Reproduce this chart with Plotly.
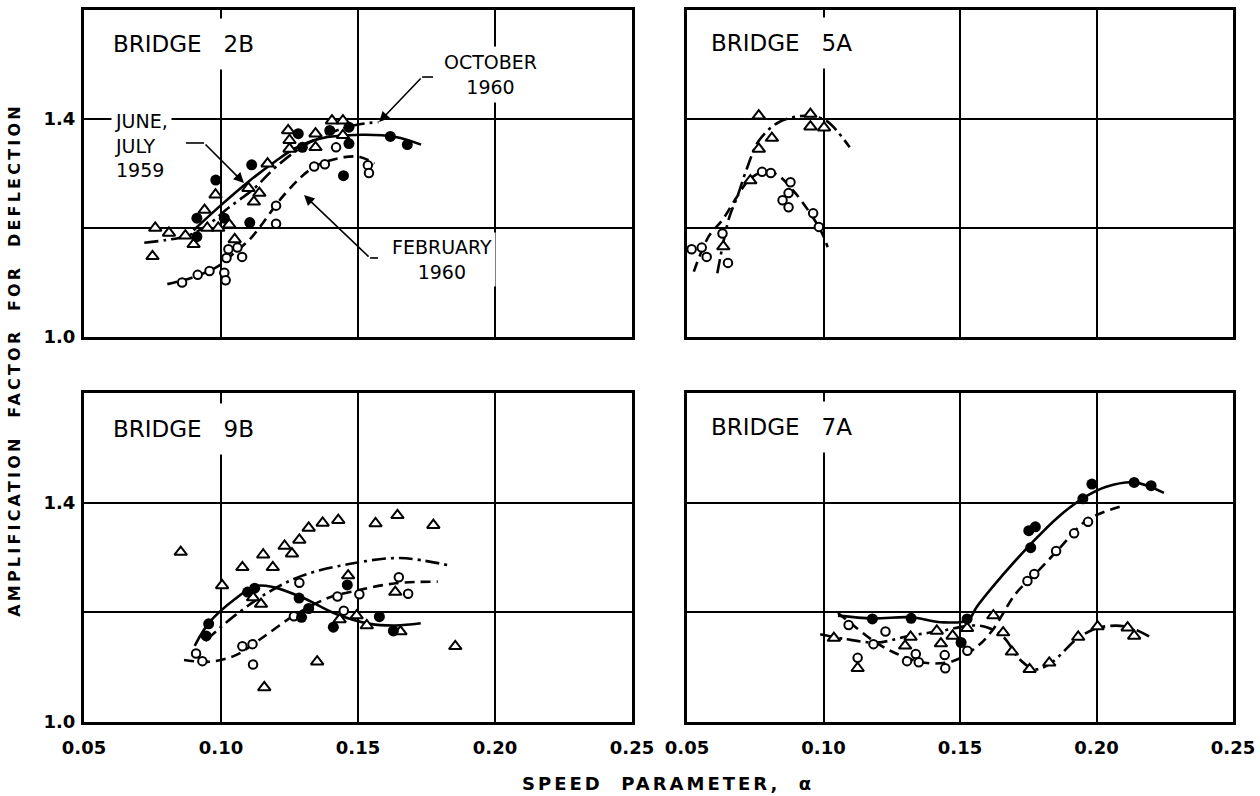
import plotly.graph_objects as go

FONT = "DejaVu Sans"

# Axis ticks shared by all four panels
X_TICKS = [0.05, 0.10, 0.15, 0.20, 0.25]
X_TICK_TEXT = ["0.05", "0.10", "0.15", "0.20", "0.25"]
Y_TICKS = [1.0, 1.2, 1.4]
Y_TICK_TEXT = ["1.0", "", "1.4"]

# ---- Bridge 2B ----
b2b_fill_x = [0.0912, 0.0912, 0.0981, 0.1012, 0.1112, 0.1105, 0.1282, 0.1297, 0.1397, 0.1467, 0.1467, 0.1447, 0.1618, 0.1680]
b2b_fill_y = [1.218, 1.184, 1.288, 1.218, 1.316, 1.210, 1.373, 1.348, 1.379, 1.385, 1.355, 1.296, 1.368, 1.353]
b2b_open_x = [0.0858, 0.0915, 0.0958, 0.1012, 0.1017, 0.1020, 0.1027, 0.1060, 0.1077, 0.1201, 0.1201, 0.1340, 0.1379, 0.1420, 0.1536, 0.1540]
b2b_open_y = [1.100, 1.114, 1.121, 1.118, 1.104, 1.145, 1.161, 1.164, 1.147, 1.241, 1.208, 1.313, 1.317, 1.348, 1.315, 1.301]
b2b_tri_x = [0.0760, 0.0810, 0.0870, 0.0750, 0.0900, 0.0940, 0.0950, 0.0980, 0.0990, 0.1030, 0.1050, 0.1100, 0.1120, 0.1140, 0.1170, 0.1245, 0.1250, 0.1250, 0.1345, 0.1345, 0.1405, 0.1445, 0.1445]
b2b_tri_y = [1.200, 1.191, 1.186, 1.148, 1.170, 1.233, 1.200, 1.261, 1.200, 1.206, 1.179, 1.273, 1.248, 1.264, 1.318, 1.379, 1.361, 1.345, 1.373, 1.348, 1.397, 1.397, 1.370]
b2b_solid_x = [0.090, 0.100, 0.110, 0.120, 0.1266, 0.136, 0.1513, 0.1637, 0.173]
b2b_solid_y = [1.196, 1.242, 1.285, 1.323, 1.345, 1.364, 1.371, 1.367, 1.353]
b2b_dashdot_x = [0.072, 0.080, 0.088, 0.095, 0.103, 0.112, 0.120, 0.130, 0.140, 0.150, 0.1575]
b2b_dashdot_y = [1.173, 1.178, 1.186, 1.205, 1.238, 1.272, 1.312, 1.350, 1.375, 1.390, 1.394]
b2b_dash_x = [0.0804, 0.090, 0.099, 0.105, 0.111, 0.1236, 0.134, 0.145, 0.151, 0.156]
b2b_dash_y = [1.097, 1.110, 1.130, 1.155, 1.182, 1.264, 1.312, 1.330, 1.330, 1.318]

# ---- Bridge 5A ----
b5a_open_x = [0.0517, 0.0554, 0.0572, 0.0630, 0.0650, 0.0775, 0.0807, 0.0879, 0.0872, 0.0850, 0.0872, 0.0962, 0.0983]
b5a_open_y = [1.161, 1.164, 1.147, 1.190, 1.136, 1.303, 1.301, 1.284, 1.264, 1.251, 1.238, 1.227, 1.202]
b5a_tri_x = [0.0763, 0.0952, 0.0952, 0.1002, 0.0811, 0.0763, 0.0732, 0.0633]
b5a_tri_y = [1.406, 1.409, 1.386, 1.384, 1.365, 1.345, 1.287, 1.166]
b5a_dashdot_x = [0.0611, 0.0655, 0.0684, 0.0720, 0.0763, 0.0836, 0.0937, 0.1009, 0.1096]
b5a_dashdot_y = [1.117, 1.220, 1.257, 1.310, 1.360, 1.394, 1.406, 1.397, 1.348]
b5a_dash_x = [0.0525, 0.058, 0.063, 0.068, 0.073, 0.078, 0.083, 0.089, 0.095, 0.0995, 0.1015]
b5a_dash_y = [1.120, 1.185, 1.215, 1.255, 1.290, 1.303, 1.298, 1.268, 1.228, 1.190, 1.165]

# ---- Bridge 9B ----
b9b_fill_x = [0.0955, 0.0946, 0.1097, 0.1123, 0.1285, 0.1294, 0.1320, 0.1410, 0.1461, 0.1578, 0.1629]
b9b_fill_y = [1.179, 1.157, 1.237, 1.244, 1.226, 1.191, 1.207, 1.173, 1.250, 1.192, 1.166]
b9b_open_x = [0.0909, 0.0932, 0.1078, 0.1115, 0.1117, 0.1266, 0.1286, 0.1425, 0.1448, 0.1505, 0.1649, 0.1683]
b9b_open_y = [1.125, 1.111, 1.138, 1.142, 1.105, 1.193, 1.254, 1.229, 1.203, 1.233, 1.264, 1.234]
b9b_tri_x = [0.0853, 0.1004, 0.1078, 0.1154, 0.1189, 0.1117, 0.1146, 0.1232, 0.1259, 0.1286, 0.1320, 0.1371, 0.1428,
             0.1564, 0.1644, 0.1775, 0.1464, 0.1433, 0.1495, 0.1532, 0.1636, 0.1655, 0.1351, 0.1158, 0.1855]
b9b_tri_y = [1.310, 1.249, 1.282, 1.305, 1.282, 1.227, 1.215, 1.321, 1.307, 1.332, 1.354, 1.363, 1.368,
             1.362, 1.377, 1.359, 1.267, 1.187, 1.194, 1.176, 1.237, 1.165, 1.110, 1.063, 1.138]
b9b_solid_x = [0.0904, 0.0958, 0.105, 0.1128, 0.119, 0.1297, 0.142, 0.1544, 0.1637, 0.1729]
b9b_solid_y = [1.139, 1.182, 1.224, 1.248, 1.246, 1.227, 1.197, 1.179, 1.176, 1.180]
b9b_dashdot_x = [0.0943, 0.105, 0.1174, 0.1297, 0.1467, 0.1652, 0.1837]
b9b_dashdot_y = [1.148, 1.194, 1.237, 1.267, 1.288, 1.299, 1.285]
b9b_dash_x = [0.0865, 0.0958, 0.105, 0.1143, 0.1266, 0.139, 0.1498, 0.1637, 0.1791]
b9b_dash_y = [1.113, 1.110, 1.121, 1.151, 1.194, 1.226, 1.240, 1.253, 1.256]

# ---- Bridge 7A ----
b7a_fill_x = [0.1179, 0.1321, 0.1526, 0.1504, 0.1752, 0.1776, 0.1759, 0.1950, 0.1983, 0.2138, 0.2200]
b7a_fill_y = [1.188, 1.189, 1.188, 1.145, 1.349, 1.356, 1.318, 1.407, 1.434, 1.437, 1.431]
b7a_open_x = [0.1092, 0.1227, 0.1183, 0.1125, 0.1306, 0.1349, 0.1338, 0.1444, 0.1446, 0.1527, 0.1747, 0.1772, 0.1852, 0.1918, 0.1969]
b7a_open_y = [1.177, 1.165, 1.142, 1.117, 1.111, 1.109, 1.124, 1.122, 1.098, 1.130, 1.257, 1.270, 1.312, 1.344, 1.365]
b7a_tri_x = [0.1038, 0.1125, 0.1299, 0.1319, 0.1415, 0.1430, 0.1473, 0.1526, 0.1622, 0.1658, 0.1690, 0.1755, 0.1827, 0.1933, 0.2004, 0.2114, 0.2138]
b7a_tri_y = [1.153, 1.098, 1.139, 1.155, 1.166, 1.143, 1.157, 1.171, 1.194, 1.163, 1.128, 1.096, 1.108, 1.155, 1.174, 1.172, 1.157]
b7a_solid_x = [0.1053, 0.118, 0.132, 0.143, 0.153, 0.156, 0.166, 0.176, 0.186, 0.195, 0.2036, 0.2138, 0.2247]
b7a_solid_y = [1.194, 1.189, 1.191, 1.182, 1.186, 1.209, 1.270, 1.325, 1.374, 1.408, 1.429, 1.437, 1.418]
b7a_dash_x = [0.1053, 0.110, 0.1183, 0.127, 0.1371, 0.1473, 0.1559, 0.1617, 0.1704, 0.1776, 0.1863, 0.1965, 0.2095]
b7a_dash_y = [1.199, 1.180, 1.148, 1.124, 1.108, 1.111, 1.136, 1.166, 1.234, 1.270, 1.316, 1.368, 1.394]
b7a_dashdot_x = [0.0988, 0.1082, 0.1198, 0.1313, 0.143, 0.1545, 0.1603, 0.1661, 0.1719, 0.1776, 0.1834, 0.1935, 0.2008, 0.2109, 0.2196]
b7a_dashdot_y = [1.160, 1.151, 1.145, 1.157, 1.166, 1.176, 1.172, 1.154, 1.114, 1.096, 1.108, 1.154, 1.172, 1.174, 1.155]

# Panel labels and their axis pairs
PANELS = [
    ("BRIDGE   2B", "x", "y", 0.0558, 1.538),
    ("BRIDGE   5A", "x2", "y2", 0.0540, 1.540),
    ("BRIDGE   9B", "x3", "y3", 0.0558, 1.535),
    ("BRIDGE   7A", "x4", "y4", 0.0540, 1.538),
]

LINE_W = 2.6
SOLID = "solid"
DASHED = "10px,6px"
DASHDOT = "14px,5px,3px,5px"

fig = go.Figure()


def add_curve(xs, ys, dash, xa, ya):
    fig.add_trace(go.Scatter(
        x=xs, y=ys, xaxis=xa, yaxis=ya, mode="lines",
        line=dict(color="black", width=LINE_W, dash=dash, shape="spline", smoothing=1.0),
        showlegend=False, hoverinfo="skip"))


def add_points(xs, ys, kind, xa, ya):
    if kind == "fill":
        marker = dict(symbol="circle", size=11, color="black", line=dict(color="black", width=0))
    elif kind == "open":
        marker = dict(symbol="circle", size=8.5, color="white", line=dict(color="black", width=2))
    else:
        marker = dict(symbol="triangle-up", size=11, color="white", line=dict(color="black", width=2))
    fig.add_trace(go.Scatter(
        x=xs, y=ys, xaxis=xa, yaxis=ya, mode="markers", marker=marker,
        showlegend=False, hoverinfo="skip"))


# Bridge 2B
add_curve(b2b_dashdot_x, b2b_dashdot_y, DASHDOT, "x", "y")
add_curve(b2b_dash_x, b2b_dash_y, DASHED, "x", "y")
add_curve(b2b_solid_x, b2b_solid_y, SOLID, "x", "y")
add_points(b2b_tri_x, b2b_tri_y, "tri", "x", "y")
add_points(b2b_open_x, b2b_open_y, "open", "x", "y")
add_points(b2b_fill_x, b2b_fill_y, "fill", "x", "y")

# Bridge 5A
add_curve(b5a_dashdot_x, b5a_dashdot_y, DASHDOT, "x2", "y2")
add_curve(b5a_dash_x, b5a_dash_y, DASHED, "x2", "y2")
add_points(b5a_tri_x, b5a_tri_y, "tri", "x2", "y2")
add_points(b5a_open_x, b5a_open_y, "open", "x2", "y2")

# Bridge 9B
add_curve(b9b_dashdot_x, b9b_dashdot_y, DASHDOT, "x3", "y3")
add_curve(b9b_dash_x, b9b_dash_y, DASHED, "x3", "y3")
add_curve(b9b_solid_x, b9b_solid_y, SOLID, "x3", "y3")
add_points(b9b_tri_x, b9b_tri_y, "tri", "x3", "y3")
add_points(b9b_open_x, b9b_open_y, "open", "x3", "y3")
add_points(b9b_fill_x, b9b_fill_y, "fill", "x3", "y3")

# Bridge 7A
add_curve(b7a_dashdot_x, b7a_dashdot_y, DASHDOT, "x4", "y4")
add_curve(b7a_dash_x, b7a_dash_y, DASHED, "x4", "y4")
add_curve(b7a_solid_x, b7a_solid_y, SOLID, "x4", "y4")
add_points(b7a_tri_x, b7a_tri_y, "tri", "x4", "y4")
add_points(b7a_open_x, b7a_open_y, "open", "x4", "y4")
add_points(b7a_fill_x, b7a_fill_y, "fill", "x4", "y4")

W, H = 1260, 796
LEFT_DOM = [84 / W, 632 / W]
RIGHT_DOM = [687 / W, 1233 / W]
TOP_DOM = [1 - 337 / H, 1 - 10 / H]
BOTTOM_DOM = [1 - 722 / H, 1 - 393 / H]

tick_font = dict(family=FONT, size=18, color="black", weight="bold")


def x_axis(domain, anchor, labels):
    return dict(domain=domain, anchor=anchor, range=[0.05, 0.25], tickvals=X_TICKS, ticktext=X_TICK_TEXT,
                showticklabels=labels, ticks="", ticklabelstandoff=7, tickfont=tick_font,
                showgrid=True, gridcolor="black", gridwidth=2,
                showline=True, linecolor="black", linewidth=3, mirror=True,
                zeroline=False, fixedrange=True, automargin=False)


def y_axis(domain, anchor, labels):
    return dict(domain=domain, anchor=anchor, range=[1.0, 1.6], tickvals=Y_TICKS, ticktext=Y_TICK_TEXT,
                showticklabels=labels, ticks="", ticklabelstandoff=2, tickfont=tick_font,
                showgrid=True, gridcolor="black", gridwidth=2,
                showline=True, linecolor="black", linewidth=3, mirror=True,
                zeroline=False, fixedrange=True, automargin=False)


annotations = []
for label, xa, ya, lx, ly in PANELS:
    annotations.append(dict(text=label, xref=xa, yref=ya, x=lx, y=ly, xanchor="left", yanchor="middle",
                            showarrow=False, font=dict(family=FONT, size=23, color="black"),
                            bgcolor="white", borderpad=12))

note_font = dict(family=FONT, size=19, color="black")

# Labels for the three test series on Bridge 2B
annotations += [
    dict(text="JUNE,<br>JULY<br>1959", xref="x", yref="y", x=0.0599, y=1.352, xanchor="left",
         yanchor="middle", align="left", showarrow=False, font=note_font, bgcolor="white", borderpad=3),
    dict(text="OCTOBER<br>1960", xref="x", yref="y", x=0.1982, y=1.481, xanchor="center",
         yanchor="middle", align="center", showarrow=False, font=note_font, bgcolor="white", borderpad=4),
    dict(text="FEBRUARY<br>1960", xref="x", yref="y", x=0.1807, y=1.143, xanchor="center",
         yanchor="middle", align="center", showarrow=False, font=note_font, bgcolor="white", borderpad=3),
]

# Leader arrows (bent leaders: short horizontal run, then angled arrow)
arrow_common = dict(xref="x", yref="y", axref="x", ayref="y", text="", showarrow=True,
                    arrowhead=2, arrowsize=1.3, arrowwidth=1.6, arrowcolor="black", standoff=0)
annotations += [
    dict(x=0.1084, y=1.2826, ax=0.0938, ay=1.356, **arrow_common),
    dict(x=0.1577, y=1.3945, ax=0.1734, ay=1.477, **arrow_common),
    dict(x=0.1303, y=1.2606, ax=0.1544, ay=1.145, **arrow_common),
]

shapes = [
    dict(type="line", xref="x", yref="y", x0=0.0872, y0=1.356, x1=0.0938, y1=1.356,
         line=dict(color="black", width=1.6)),
    dict(type="line", xref="x", yref="y", x0=0.1734, y0=1.477, x1=0.1774, y1=1.477,
         line=dict(color="black", width=1.6)),
    dict(type="line", xref="x", yref="y", x0=0.1544, y0=1.145, x1=0.1573, y1=1.145,
         line=dict(color="black", width=1.6)),
]

annotations += [
    dict(text="SPEED  PARAMETER,  α", xref="paper", yref="paper", x=668 / W, y=1 - 783 / H,
         xanchor="center", yanchor="middle", showarrow=False,
         font=dict(family=FONT, size=18, color="black", weight="bold")),
    dict(text="AMPLIFICATION  FACTOR  FOR  DEFLECTION", xref="paper", yref="paper", x=15 / W, y=1 - 360 / H,
         xanchor="center", yanchor="middle", textangle=-90, showarrow=False,
         font=dict(family=FONT, size=16, color="black", weight="bold")),
]

fig.update_layout(
    width=W, height=H,
    margin=dict(l=0, r=0, t=0, b=0),
    paper_bgcolor="white", plot_bgcolor="white",
    font=dict(family=FONT, color="black"),
    xaxis=x_axis(LEFT_DOM, "y", False),
    yaxis=y_axis(TOP_DOM, "x", True),
    xaxis2=x_axis(RIGHT_DOM, "y2", False),
    yaxis2=y_axis(TOP_DOM, "x2", False),
    xaxis3=x_axis(LEFT_DOM, "y3", True),
    yaxis3=y_axis(BOTTOM_DOM, "x3", True),
    xaxis4=x_axis(RIGHT_DOM, "y4", True),
    yaxis4=y_axis(BOTTOM_DOM, "x4", False),
    annotations=annotations,
    shapes=shapes,
    showlegend=False,
)

# Widen the lettering of the two axis titles
SPACING_JS = """
var gd = document.getElementById('{plot_id}');
function spaceTitles() {
  gd.querySelectorAll('text.annotation-text').forEach(function (t) {
    var s = t.textContent;
    if (s.indexOf('SPEED') === 0) { t.style.letterSpacing = '3px'; }
    else if (s.indexOf('AMPLIFICATION') === 0) { t.style.letterSpacing = '3.2px'; }
  });
}
spaceTitles();
gd.on('plotly_afterplot', spaceTitles);
"""

fig.write_html("out.html", config={"displayModeBar": False}, post_script=SPACING_JS)
